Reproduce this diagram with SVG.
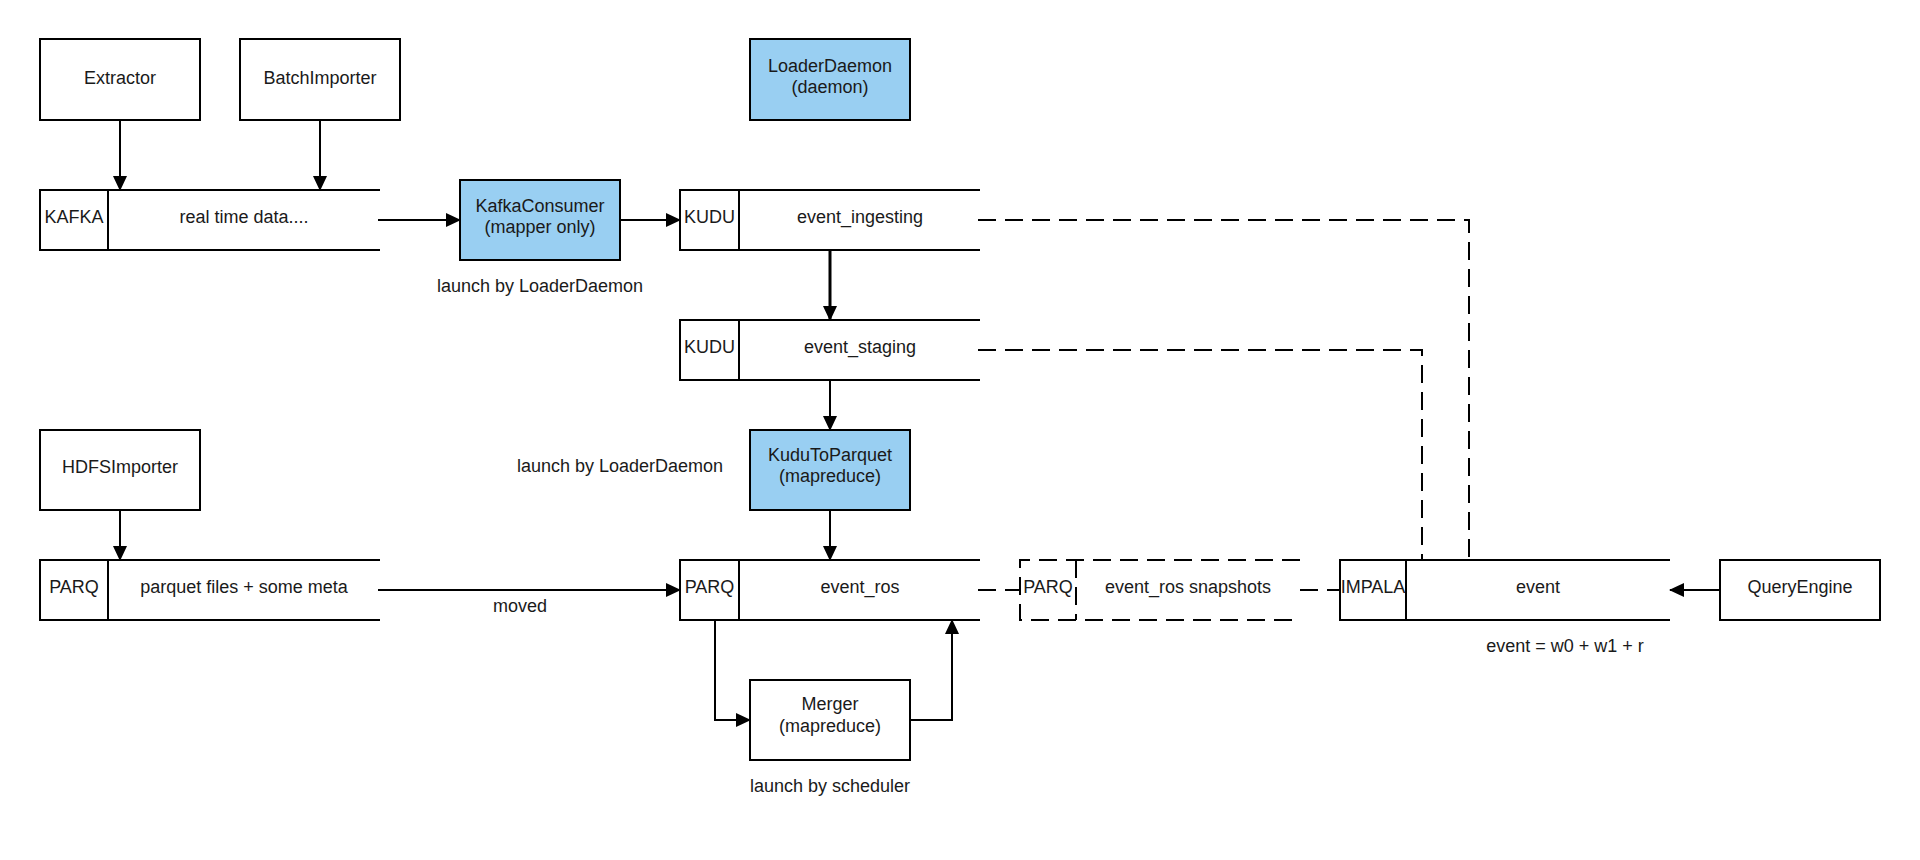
<svg xmlns="http://www.w3.org/2000/svg" width="1920" height="860" viewBox="0 0 1920 860">
<defs>
<style>
.box{fill:#ffffff;stroke:#000;stroke-width:2}
.blue{fill:#99cff2;stroke:#000;stroke-width:2}
.ln{fill:none;stroke:#000;stroke-width:2}
.dash{fill:none;stroke:#000;stroke-width:2;stroke-dasharray:18 9}
.conn{fill:none;stroke:#000;stroke-width:2}
.arr{marker-end:url(#ah)}
text{font-family:"Liberation Sans",Arial,sans-serif;font-size:18px;fill:#1a1a1a;text-anchor:middle}
</style>
<marker id="ah" markerUnits="userSpaceOnUse" markerWidth="16" markerHeight="14" refX="14" refY="7" orient="auto">
<path d="M0,0 L15,7 L0,14 Z" fill="#000"/>
</marker>
</defs>
<rect width="1920" height="860" fill="#ffffff"/>

<g id="extractor"><rect class="box" x="40" y="39" width="160" height="81"/><text x="120" y="84">Extractor</text></g>
<g id="batchimporter"><rect class="box" x="240" y="39" width="160" height="81"/><text x="320" y="84">BatchImporter</text></g>
<g id="loaderdaemon"><rect class="blue" x="750" y="39" width="160" height="81"/><text x="830" y="72">LoaderDaemon</text><text x="830" y="93">(daemon)</text></g>

<g id="kafka"><path class="ln" d="M380,190 H40 V250 H380 M108,190 V250"/><text x="74" y="223">KAFKA</text><text x="244" y="223">real time data....</text></g>
<g id="kafkaconsumer"><rect class="blue" x="460" y="180" width="160" height="80"/><text x="540" y="212">KafkaConsumer</text><text x="540" y="233">(mapper only)</text></g>
<g id="label-launch1"><text x="540" y="292">launch by LoaderDaemon</text></g>
<g id="event_ingesting"><path class="ln" d="M980,190 H680 V250 H980 M739,190 V250"/><text x="709.5" y="223">KUDU</text><text x="860" y="223">event_ingesting</text></g>
<g id="event_staging"><path class="ln" d="M980,320 H680 V380 H980 M739,320 V380"/><text x="709.5" y="353">KUDU</text><text x="860" y="353">event_staging</text></g>

<g id="hdfsimporter"><rect class="box" x="40" y="430" width="160" height="80"/><text x="120" y="473">HDFSImporter</text></g>
<g id="label-launch2"><text x="620" y="472">launch by LoaderDaemon</text></g>
<g id="kudutoparquet"><rect class="blue" x="750" y="430" width="160" height="80"/><text x="830" y="461">KuduToParquet</text><text x="830" y="482">(mapreduce)</text></g>

<g id="parquet_files"><path class="ln" d="M380,560 H40 V620 H380 M108,560 V620"/><text x="74" y="593">PARQ</text><text x="244" y="593">parquet files + some meta</text></g>
<g id="label-moved"><text x="520" y="612">moved</text></g>
<g id="event_ros"><path class="ln" d="M980,560 H680 V620 H980 M739,560 V620"/><text x="709.5" y="593">PARQ</text><text x="860" y="593">event_ros</text></g>
<g id="event_ros_snapshots"><path class="dash" d="M1300,560 H1020 V620 H1300 M1076,560 V620"/><text x="1048" y="593">PARQ</text><text x="1188" y="593">event_ros snapshots</text></g>
<g id="event"><path class="ln" d="M1670,560 H1340 V620 H1670 M1406,560 V620"/><text x="1373" y="593">IMPALA</text><text x="1538" y="593">event</text></g>
<g id="label-event-formula"><text x="1565" y="652">event = w0 + w1 + r</text></g>
<g id="queryengine"><rect class="box" x="1720" y="560" width="160" height="60"/><text x="1800" y="593">QueryEngine</text></g>

<g id="merger"><rect class="box" x="750" y="680" width="160" height="80"/><text x="830" y="710">Merger</text><text x="830" y="732">(mapreduce)</text></g>
<g id="label-launch3"><text x="830" y="792">launch by scheduler</text></g>

<g id="connectors">
<path class="conn arr" d="M120,120 V190"/>
<path class="conn arr" d="M320,120 V190"/>
<path class="conn arr" d="M378,220 H460"/>
<path class="conn arr" d="M620,220 H680"/>
<path class="conn arr" style="stroke-width:3" d="M830,249 V320"/>
<path class="conn arr" d="M830,380 V430"/>
<path class="conn arr" d="M120,510 V560"/>
<path class="conn arr" d="M830,510 V560"/>
<path class="conn arr" d="M378,590 H680"/>
<path class="conn arr" d="M715,620 V720 H750"/>
<path class="conn arr" d="M910,720 H952 V620"/>
<path class="conn arr" d="M1720,590 H1670"/>
<path class="dash" d="M978,220 H1469 V560"/>
<path class="dash" d="M978,350 H1422 V560"/>
<path class="dash" d="M978,590 H1020"/>
<path class="dash" d="M1300,590 H1340"/>
</g>
</svg>
